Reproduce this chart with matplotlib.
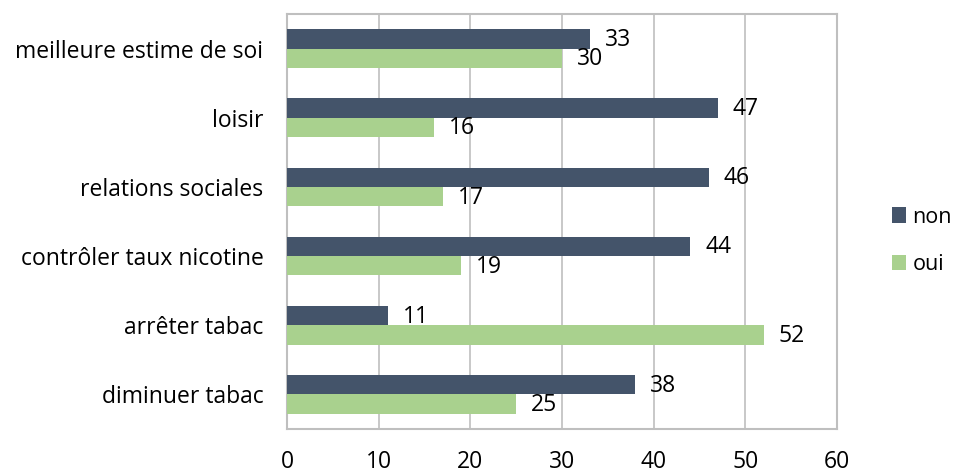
import numpy as np
import matplotlib.pyplot as plt

plt.rcParams['font.family'] = ['Open Sans', 'DejaVu Sans']

categories = ['diminuer tabac', 'arrêter tabac', 'contrôler taux nicotine',
              'relations sociales', 'loisir', 'meilleure estime de soi']
non_values = [38, 11, 44, 46, 47, 33]
oui_values = [25, 52, 19, 17, 16, 30]

c_non = '#44546A'
c_oui = '#A9D18E'
c_grid = '#BFBFBF'
fs = 16.5

fig = plt.figure(figsize=(9.58, 4.73), dpi=100)
ax = fig.add_axes([287 / 958, 1 - 429 / 473, 550 / 958, 415 / 473])

y = np.arange(len(categories))
h = 0.28
b_non = ax.barh(y + h / 2, non_values, height=h, color=c_non, label='non', zorder=3)
b_oui = ax.barh(y - h / 2, oui_values, height=h, color=c_oui, label='oui', zorder=3)

# value labels just right of each bar end
for bars, vals in ((b_non, non_values), (b_oui, oui_values)):
    for bar, v in zip(bars, vals):
        ax.annotate(str(v), (v, bar.get_y() + bar.get_height() / 2),
                    xytext=(15, -1), textcoords='offset pixels',
                    va='center', ha='left', fontsize=fs, color='black', zorder=4)

ax.set_xlim(0, 60)
ax.set_ylim(-0.5, len(categories) - 0.5)
ax.set_xticks(range(0, 61, 10))
ax.set_yticks(y)
ax.set_yticklabels(categories)
ax.tick_params(axis='both', length=0, labelsize=fs)
ax.tick_params(axis='y', pad=17)
ax.tick_params(axis='x', pad=15)
ax.grid(axis='x', color=c_grid, linewidth=1.2, zorder=0)
for s in ax.spines.values():
    s.set_color(c_grid)
    s.set_linewidth(1.5)

fig.legend([b_non, b_oui], ['non', 'oui'], loc='center left',
           bbox_to_anchor=(892 / 958, 1 - 241 / 473),
           frameon=False, fontsize=15.5, handlelength=0.65, handleheight=0.7,
           handletextpad=0.3, labelspacing=1.25, borderaxespad=0,
           borderpad=0)

fig.savefig('out.png', dpi=100)
